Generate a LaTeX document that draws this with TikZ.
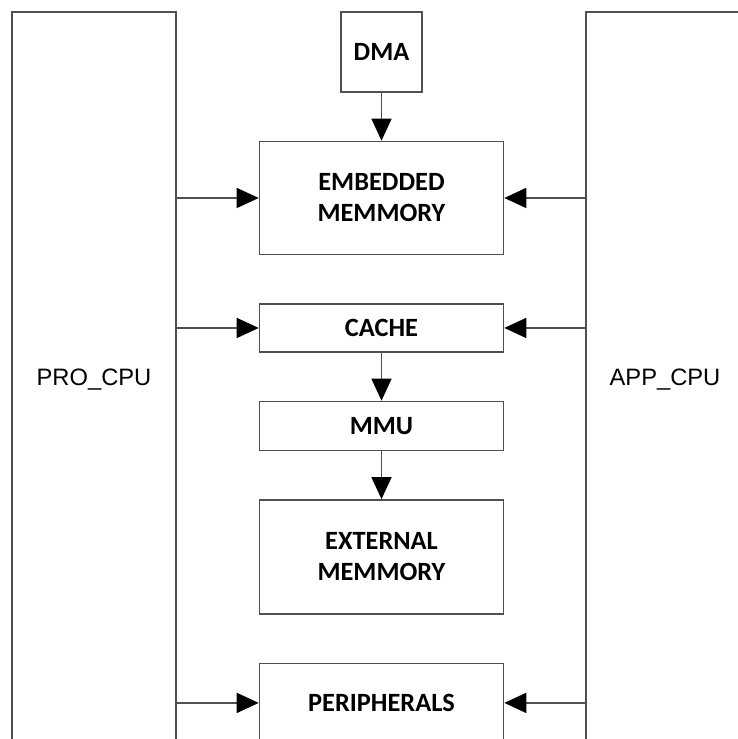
\documentclass[tikz,border=0pt]{standalone}
\usepackage{fontspec}
\setmainfont{Carlito}
\newfontfamily\cpufont{Liberation Sans}
\usetikzlibrary{arrows.meta,positioning}
\definecolor{linegray}{RGB}{80,80,80}

\begin{document}
\begin{tikzpicture}[node distance=0.958cm,
  box/.style={rectangle, draw=linegray, line width=0.9pt, inner sep=0pt, minimum width=4.88cm, align=center, font=\fontsize{15}{17.6}\selectfont\bfseries},
  cpu/.style={rectangle, draw=linegray, line width=0.9pt, inner sep=0pt, minimum height=14.72cm, font=\cpufont\fontsize{13.5}{16}\selectfont},
  arr/.style={draw=linegray, line width=0.9pt, -{Triangle[length=0.44cm,width=0.4cm,color=black]}}]
\useasboundingbox (0,0) rectangle (14.74,-14.78);
\node (pro) [cpu, minimum width=3.28cm] at (1.88,-7.6) {PRO\_CPU};
\node (app) [cpu, minimum width=3.16cm] at (13.3,-7.6) {APP\_CPU};
\node (dma) [box, minimum width=1.62cm, minimum height=1.6cm] at (7.63,-1.04) {DMA};
\node (emb) [box, minimum height=2.26cm, below=of dma] {EMBEDDED\\MEMMORY};
\node (cache) [box, minimum height=0.96cm, below=of emb] {CACHE};
\node (mmu) [box, minimum height=0.98cm, below=of cache] {MMU};
\node (ext) [box, minimum height=2.28cm, below=of mmu] {EXTERNAL\\MEMMORY};
\node (per) [box, minimum height=1.58cm, below=of ext] {PERIPHERALS};

\draw [arr] (dma) -- (emb);
\draw [arr] (cache) -- (mmu);
\draw [arr] (mmu) -- (ext);
\draw [arr] (pro.east |- emb.west) -- (emb.west);
\draw [arr] (app.west |- emb.east) -- (emb.east);
\draw [arr] (pro.east |- cache.west) -- (cache.west);
\draw [arr] (app.west |- cache.east) -- (cache.east);
\draw [arr] (pro.east |- per.west) -- (per.west);
\draw [arr] (app.west |- per.east) -- (per.east);
\end{tikzpicture}
\end{document}
